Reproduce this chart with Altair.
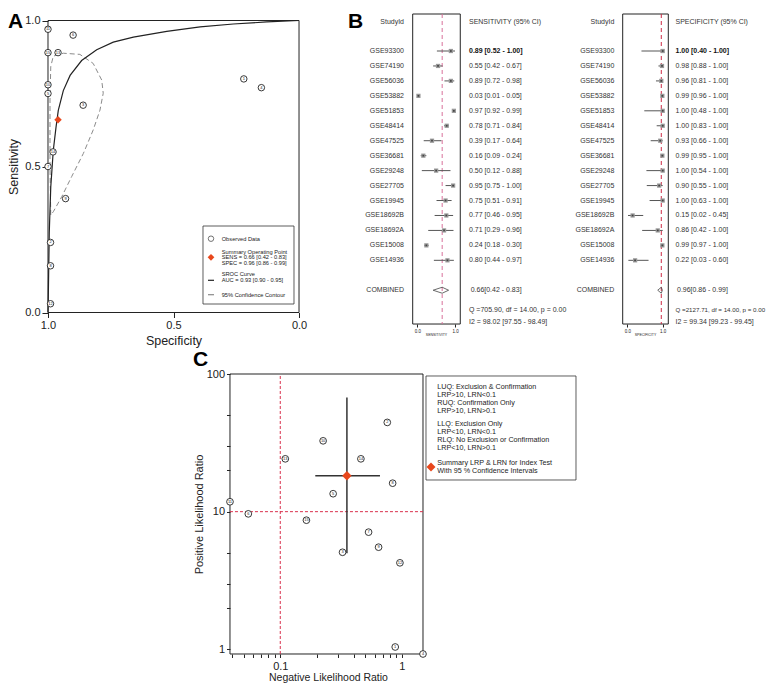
import altair as alt
import pandas as pd

SANS = "Liberation Sans, Arial, sans-serif"
INK = "#222222"
RED = "#e8471c"

# ---------------- data ----------------
studies = ["GSE93300", "GSE74190", "GSE56036", "GSE53882", "GSE51853", "GSE48414",
           "GSE47525", "GSE36681", "GSE29248", "GSE27705", "GSE19945", "GSE18692B",
           "GSE18692A", "GSE15008", "GSE14936"]
study_no = [15, 14, 13, 12, 11, 10, 9, 8, 7, 6, 5, 4, 3, 2, 1]
sens = [0.89, 0.55, 0.89, 0.03, 0.97, 0.78, 0.39, 0.16, 0.50, 0.95, 0.75, 0.77, 0.71, 0.24, 0.80]
sens_lo = [0.52, 0.42, 0.72, 0.01, 0.92, 0.71, 0.17, 0.09, 0.12, 0.75, 0.51, 0.46, 0.29, 0.18, 0.44]
sens_hi = [1.00, 0.67, 0.98, 0.05, 0.99, 0.84, 0.64, 0.24, 0.88, 1.00, 0.91, 0.95, 0.96, 0.30, 0.97]
spec = [1.00, 0.98, 0.96, 0.99, 1.00, 1.00, 0.93, 0.99, 1.00, 0.90, 1.00, 0.15, 0.86, 0.99, 0.22]
spec_lo = [0.40, 0.88, 0.81, 0.96, 0.48, 0.83, 0.66, 0.95, 0.54, 0.55, 0.63, 0.02, 0.42, 0.97, 0.03]
spec_hi = [1.00, 1.00, 1.00, 1.00, 1.00, 1.00, 1.00, 1.00, 1.00, 1.00, 1.00, 0.45, 1.00, 1.00, 0.60]
comb_sens = [0.66, 0.42, 0.83]
comb_spec = [0.96, 0.86, 0.99]
sens_q = "Q =705.90, df = 14.00, p =  0.00"
sens_i2 = "I2 = 98.02 [97.55 - 98.49]"
spec_q = "Q =2127.71, df = 14.00, p =  0.00"
spec_i2 = "I2 = 99.34 [99.23 - 99.45]"

sroc_spec = [1.0, 0.999, 0.995, 0.989, 0.979, 0.968, 0.959, 0.939, 0.912, 0.866, 0.806,
             0.74, 0.66, 0.527, 0.394, 0.262, 0.129, 0.0]
sroc_sens = [0.0, 0.043, 0.272, 0.43, 0.555, 0.635, 0.692, 0.76, 0.812, 0.863, 0.9,
             0.926, 0.943, 0.963, 0.978, 0.988, 0.995, 1.0]
cont_spec = [0.989, 0.992, 0.992, 0.989, 0.979, 0.939, 0.873, 0.820, 0.786, 0.780, 0.793,
             0.820, 0.859, 0.906, 0.945, 0.979, 0.989]
cont_sens = [0.334, 0.499, 0.728, 0.842, 0.878, 0.888, 0.884, 0.853, 0.796, 0.751, 0.693,
             0.625, 0.545, 0.465, 0.397, 0.345, 0.334]

lr_no = [11, 6, 13, 15, 10, 5, 3, 14, 7, 9, 2, 8, 12, 1, 4]
lrn = [0.0386, 0.0546, 0.110, 0.164, 0.225, 0.272, 0.325, 0.46, 0.532, 0.643, 0.758, 0.839, 0.963, 0.881, 1.49]
lrp = [11.8, 9.64, 24.2, 8.67, 32.7, 13.5, 5.07, 24.2, 7.1, 5.52, 44.5, 16.1, 4.25, 1.04, 0.925]
lrn_sum = [0.353, 0.194, 0.66]
lrp_sum = [18.2, 4.99, 67.6]

legend_a = ["Observed Data", "Summary Operating  Point", "SENS = 0.66 [0.42 - 0.83]",
            "SPEC = 0.96 [0.86 - 0.99]", "SROC Curve", "AUC = 0.93 [0.90 - 0.95]",
            "95% Confidence Contour"]
legend_c = ["LUQ: Exclusion & Confirmation", "LRP>10, LRN<0.1", "RUQ: Confirmation Only",
            "LRP>10, LRN>0.1", "LLQ: Exclusion Only", "LRP<10, LRN<0.1",
            "RLQ: No Exclusion or Confirmation", "LRP<10, LRN>0.1",
            "Summary LRP & LRN for Index Test", "With 95 % Confidence Intervals"]

DUMMY = pd.DataFrame({"d": [0]})

# One shared canvas (view) holding the three panels, each with its own scales.
W, H = 620.3, 640


def txt(x, y, t, size, align="left", baseline="middle", weight="normal", color=INK):
    return alt.Chart(DUMMY).mark_text(
        align=align, baseline=baseline, fontSize=size, font=SANS, fontWeight=weight, color=color
    ).encode(x=alt.value(x), y=alt.value(y), text=alt.value(t))


def frame(df, x, x2, y, y2):
    return alt.Chart(df).mark_rect(fillOpacity=0, stroke=INK, strokeWidth=1).encode(
        x=x, x2=x2, y=y, y2=y2)


# ---------------- panel A : SROC ----------------
def xA(f="spec"):
    return alt.X(f"{f}:Q", scale=alt.Scale(domain=[-1.471, 1], reverse=True, nice=False, zero=False),
                 axis=alt.Axis(orient="bottom", offset=-341.5, values=[0, 0.5, 1], format=".1f",
                               title="Specificity", grid=False, domain=False, tickSize=5,
                               tickColor=INK, labelPadding=2, labelFont=SANS, labelFontSize=11,
                               labelColor=INK, labelFlush=False, titleFont=SANS, titleFontSize=12.5,
                               titleFontWeight="normal", titleColor=INK, titleX=125.5, titleY=27.5,
                               titleBaseline="middle", titleAlign="center"))


def yA(f="sens"):
    return alt.Y(f"{f}:Q", scale=alt.Scale(domain=[-1.1695, 1.0223], nice=False, zero=False),
                 axis=alt.Axis(orient="left", values=[0, 0.5, 1], format=".1f", title="Sensitivity",
                               grid=False, domain=False, tickSize=6, tickColor=INK, labelPadding=2,
                               labelFont=SANS, labelFontSize=11, labelColor=INK, labelFlush=False,
                               titleFont=SANS, titleFontSize=12.5, titleFontWeight="normal",
                               titleColor=INK, titleX=-34, titleY=152.5, titleBaseline="middle",
                               titleAlign="center", titleAngle=270))


obs_df = pd.DataFrame({"spec": spec, "sens": sens, "no": study_no})
sroc_df = pd.DataFrame({"spec": sroc_spec, "sens": sroc_sens, "o": list(range(len(sroc_spec)))})
cont_df = pd.DataFrame({"spec": cont_spec, "sens": cont_sens, "o": list(range(len(cont_spec)))})
sum_df = pd.DataFrame({"spec": [comb_spec[0]], "sens": [comb_sens[0]]})
frameA = pd.DataFrame({"spec": [1.0], "spec2": [0.0], "sens": [0.0], "sens2": [1.0]})

a_layers = [
    # invisible anchor fixing the top edge of the canvas
    alt.Chart(DUMMY).mark_point(size=1, opacity=0).encode(x=alt.value(0), y=alt.value(-5.44)),
    frame(frameA, xA(), "spec2:Q", yA(), "sens2:Q"),
    alt.Chart(cont_df).mark_line(color="#8a8a8a", strokeDash=[5, 3], strokeWidth=1).encode(
        x=xA(), y=yA(), order="o:Q"),
    alt.Chart(sroc_df).mark_line(color=INK, strokeWidth=1.2).encode(x=xA(), y=yA(), order="o:Q"),
    alt.Chart(obs_df).mark_point(shape="circle", filled=True, fill="white", stroke=INK,
                                 strokeWidth=0.9, size=42, opacity=1).encode(x=xA(), y=yA()),
    alt.Chart(obs_df).mark_text(fontSize=4, font=SANS, color=INK).encode(x=xA(), y=yA(), text="no:N"),
    alt.Chart(sum_df).mark_point(shape="diamond", filled=True, color=RED, size=55, opacity=1).encode(
        x=xA(), y=yA()),
    # legend box
    alt.Chart(DUMMY).mark_rect(fill="white", stroke="#333", strokeWidth=0.8).encode(
        x=alt.value(155), x2=alt.value(246), y=alt.value(212), y2=alt.value(290)),
    alt.Chart(DUMMY).mark_point(shape="circle", filled=False, color=INK, size=30, strokeWidth=0.9).encode(
        x=alt.value(163), y=alt.value(224.7)),
    alt.Chart(DUMMY).mark_point(shape="diamond", filled=True, color=RED, size=45, opacity=1).encode(
        x=alt.value(163), y=alt.value(243.3)),
    alt.Chart(DUMMY).mark_rule(color=INK, strokeWidth=1.2).encode(
        x=alt.value(160), x2=alt.value(166), y=alt.value(266.3)),
    alt.Chart(DUMMY).mark_rule(color="#8a8a8a", strokeWidth=1.2).encode(
        x=alt.value(160), x2=alt.value(166), y=alt.value(280.7)),
    txt(-40, -3, "A", 21, baseline="top", weight="bold", color="#000"),
]
for yy, t in zip([224.7, 237.7, 243.3, 249.3, 260.3, 266.3, 280.7], legend_a):
    a_layers.append(txt(173.7, yy, t, 5.7))

panelA = alt.layer(*a_layers)

# ---------------- panel B : forest plots ----------------
ROW_DOM = [41.33, -1.475]  # bottom -> top of the canvas
ROW_TOP, ROW_BOT = -1.475, 19.26


def forest(est, lo, hi, comb, header, ax_title, q_txt, i2_txt, dom, fr, title_x,
           lab_x, val_x, comb_x, rule_color, q_size=7, letter=False):
    df = pd.DataFrame({"study": studies, "row": list(range(1, 16)), "est": est, "lo": lo, "hi": hi})
    df["txt"] = [f"{e:.2f} [{l:.2f} - {h:.2f}]" for e, l, h in zip(est, lo, hi)]
    ysc = alt.Scale(domain=ROW_DOM, nice=False, zero=False)
    xsc = alt.Scale(domain=dom, nice=False, zero=False)
    xax = alt.Axis(orient="bottom", offset=-330, values=[0, 1], format=".1f", title=ax_title,
                   grid=False, domain=False, tickSize=3, tickColor=INK, labelPadding=1,
                   labelFontSize=4.5, labelFont=SANS, labelColor=INK, labelFlush=False,
                   titleFontSize=3.5, titleFont=SANS, titleFontWeight="normal", titleColor=INK,
                   titleX=title_x, titleY=10, titleBaseline="middle", titleAlign="center")

    def X(f):
        return alt.X(f"{f}:Q", scale=xsc, axis=xax)

    def Y(f):
        return alt.Y(f"{f}:Q", scale=ysc, axis=None)

    dia = pd.DataFrame({"dx": [comb[1], comb[0], comb[2], comb[0], comb[1]],
                        "dy": [17, 16.8, 17, 17.2, 17], "o": [0, 1, 2, 3, 4]})
    frm = pd.DataFrame({"est": [fr[0]], "est2": [fr[1]], "row": [ROW_TOP], "row2": [ROW_BOT]})
    ref = pd.DataFrame({"est": [comb[0]], "row": [ROW_TOP], "row2": [ROW_BOT]})
    layers = [
        frame(frm, X("est"), "est2:Q", Y("row"), "row2:Q"),
        alt.Chart(ref).mark_rule(color=rule_color, strokeDash=[4, 3], strokeWidth=1).encode(
            x=X("est"), y=Y("row"), y2="row2:Q"),
        alt.Chart(df).mark_rule(color="#555", strokeWidth=1).encode(x=X("lo"), x2="hi:Q", y=Y("row")),
        alt.Chart(df).mark_square(size=18, color="#999", opacity=1).encode(x=X("est"), y=Y("row")),
        alt.Chart(df).mark_square(size=3, color="#444", opacity=1).encode(x=X("est"), y=Y("row")),
        alt.Chart(dia).mark_line(color="#444", strokeWidth=0.8).encode(x=X("dx"), y=Y("dy"), order="o:Q"),
        alt.Chart(df).mark_text(align="right", fontSize=7, font=SANS, color="#333").encode(
            x=alt.value(lab_x), y=Y("row"), text="study:N"),
        alt.Chart(df).transform_filter("datum.row > 1").mark_text(
            align="left", fontSize=7, font=SANS, color="#333").encode(
            x=alt.value(val_x), y=Y("row"), text="txt:N"),
        alt.Chart(df).transform_filter("datum.row == 1").mark_text(
            align="left", fontSize=7, font=SANS, color="#111", fontWeight="bold").encode(
            x=alt.value(val_x), y=Y("row"), text="txt:N"),
    ]
    extra = pd.DataFrame({"row": [-0.96, -0.96, 17, 17, 18.33, 19.1],
                          "t": ["StudyId", header, "COMBINED",
                                f"{comb[0]:.2f}[{comb[1]:.2f} - {comb[2]:.2f}]", q_txt, i2_txt]})
    xs = [(lab_x, "right", 7), (val_x, "left", 7), (lab_x, "right", 7), (comb_x, "left", 7),
          (val_x, "left", q_size), (val_x, "left", 7)]
    for i, (xx, al, fs) in enumerate(xs):
        layers.append(
            alt.Chart(extra.iloc[[i]]).mark_text(align=al, fontSize=fs, font=SANS, color="#333").encode(
                x=alt.value(xx), y=Y("row"), text="t:N"))
    if letter:
        layers.append(txt(300, -3, "B", 21, baseline="top", weight="bold", color="#000"))
    return alt.layer(*layers)


panelBs = forest(sens, sens_lo, sens_hi, comb_sens, "SENSITIVITY (95% CI)", "SENSITIVITY",
                 sens_q, sens_i2, [-9.796, 6.658], [-0.122, 1.14], 388, 356, 421, 422.7,
                 "#d8709a", letter=True)
panelBsp = forest(spec, spec_lo, spec_hi, comb_spec, "SPECIFICITY (95% CI)", "SPECIFICITY",
                  spec_q, spec_i2, [-16.364, 1.158], [-0.13, 1.158], 597, 566.3, 627.5, 629,
                  "#cc2a44", q_size=6.2)

# ---------------- panel C : likelihood ratio matrix ----------------
xC_vals = [0.04, 0.05, 0.06, 0.07, 0.08, 0.09, 0.1, 0.2, 0.3, 0.4, 0.5, 0.6, 0.7, 0.8, 0.9, 1.0]
yC_vals = [1, 2, 3, 5, 10, 20, 30, 50, 100]
C_X = [0.0386, 1.49]
C_Y = [0.925, 100]


def xC(f="lrn"):
    return alt.X(f"{f}:Q", scale=alt.Scale(type="log", domain=[0.001232, 154.8], nice=False),
                 axis=alt.Axis(orient="bottom", values=xC_vals,
                               labelExpr="datum.value == 0.1 ? '0.1' : (datum.value == 1 ? '1' : '')",
                               title="Negative Likelihood Ratio", grid=False, domain=False,
                               tickSize=3.5, tickColor=INK, labelPadding=3, labelFont=SANS,
                               labelFontSize=11, labelColor=INK, labelFlush=False, labelOverlap=False,
                               titleFont=SANS, titleFontSize=10.5, titleFontWeight="normal",
                               titleColor=INK, titleX=280, titleY=24, titleBaseline="middle",
                               titleAlign="center"))


def yC(f="lrp"):
    return alt.Y(f"{f}:Q", scale=alt.Scale(type="log", domain=[0.925, 41210], nice=False),
                 axis=alt.Axis(orient="left", offset=-182, values=yC_vals,
                               labelExpr="(datum.value == 1 || datum.value == 10 || datum.value == 100) ? datum.label : ''",
                               format="d", title="Positive Likelihood Ratio", grid=False, domain=False,
                               tickSize=3.5, tickColor=INK, labelPadding=2, labelFont=SANS,
                               labelFontSize=11, labelColor=INK, labelFlush=False, labelOverlap=False,
                               titleFont=SANS, titleFontSize=11, titleFontWeight="normal",
                               titleColor=INK, titleX=-30, titleY=500, titleBaseline="middle",
                               titleAlign="center", titleAngle=270))


lr_df = pd.DataFrame({"lrn": lrn, "lrp": lrp, "no": lr_no})
frameC = pd.DataFrame({"lrn": [C_X[0]], "lrn2": [C_X[1]], "lrp": [C_Y[0]], "lrp2": [C_Y[1]]})
c_layers = [
    frame(frameC, xC(), "lrn2:Q", yC(), "lrp2:Q"),
    alt.Chart(pd.DataFrame({"lrn": [0.1], "lrp": [C_Y[0]], "lrp2": [C_Y[1]]})).mark_rule(
        color="#d9304c", strokeDash=[3, 2], strokeWidth=1).encode(x=xC(), y=yC(), y2="lrp2:Q"),
    alt.Chart(pd.DataFrame({"lrp": [10], "lrn": [C_X[0]], "lrn2": [C_X[1]]})).mark_rule(
        color="#d9304c", strokeDash=[3, 2], strokeWidth=1).encode(y=yC(), x=xC(), x2="lrn2:Q"),
    alt.Chart(pd.DataFrame({"lrn": [lrn_sum[1]], "lrn2": [lrn_sum[2]], "lrp": [lrp_sum[0]]})).mark_rule(
        color="#333", strokeWidth=1.5).encode(x=xC(), x2="lrn2:Q", y=yC()),
    alt.Chart(pd.DataFrame({"lrn": [lrn_sum[0]], "lrp": [lrp_sum[1]], "lrp2": [lrp_sum[2]]})).mark_rule(
        color="#333", strokeWidth=1.5).encode(x=xC(), y=yC(), y2="lrp2:Q"),
    alt.Chart(lr_df).mark_point(shape="circle", filled=True, fill="white", stroke=INK,
                                strokeWidth=0.9, size=45, opacity=1).encode(x=xC(), y=yC()),
    alt.Chart(lr_df).mark_text(fontSize=4, font=SANS, color=INK).encode(x=xC(), y=yC(), text="no:N"),
    alt.Chart(pd.DataFrame({"lrn": [lrn_sum[0]], "lrp": [lrp_sum[0]]})).mark_point(
        shape="diamond", filled=True, color=RED, size=90, opacity=1).encode(x=xC(), y=yC()),
    alt.Chart(DUMMY).mark_rect(fill="white", stroke="#333", strokeWidth=0.8).encode(
        x=alt.value(378), x2=alt.value(528), y=alt.value(362), y2=alt.value(466)),
    alt.Chart(DUMMY).mark_point(shape="diamond", filled=True, color=RED, size=80, opacity=1).encode(
        x=alt.value(383), y=alt.value(453)),
    txt(145, 335, "C", 21, baseline="top", weight="bold", color="#000"),
]
for yy, t in zip([373, 381, 389, 397, 410, 418, 426, 434, 449, 457], legend_c):
    c_layers.append(txt(389.3, yy, t, 7.2))

panelC = alt.layer(*c_layers)

# ---------------- assemble ----------------
chart = alt.layer(panelA, panelBs, panelBsp, panelC).resolve_scale(
    x="independent", y="independent"
).properties(width=W, height=H, padding=0, background="white").configure_view(stroke="transparent")

chart.save("out.html", embed_options={"renderer": "svg", "actions": False})
